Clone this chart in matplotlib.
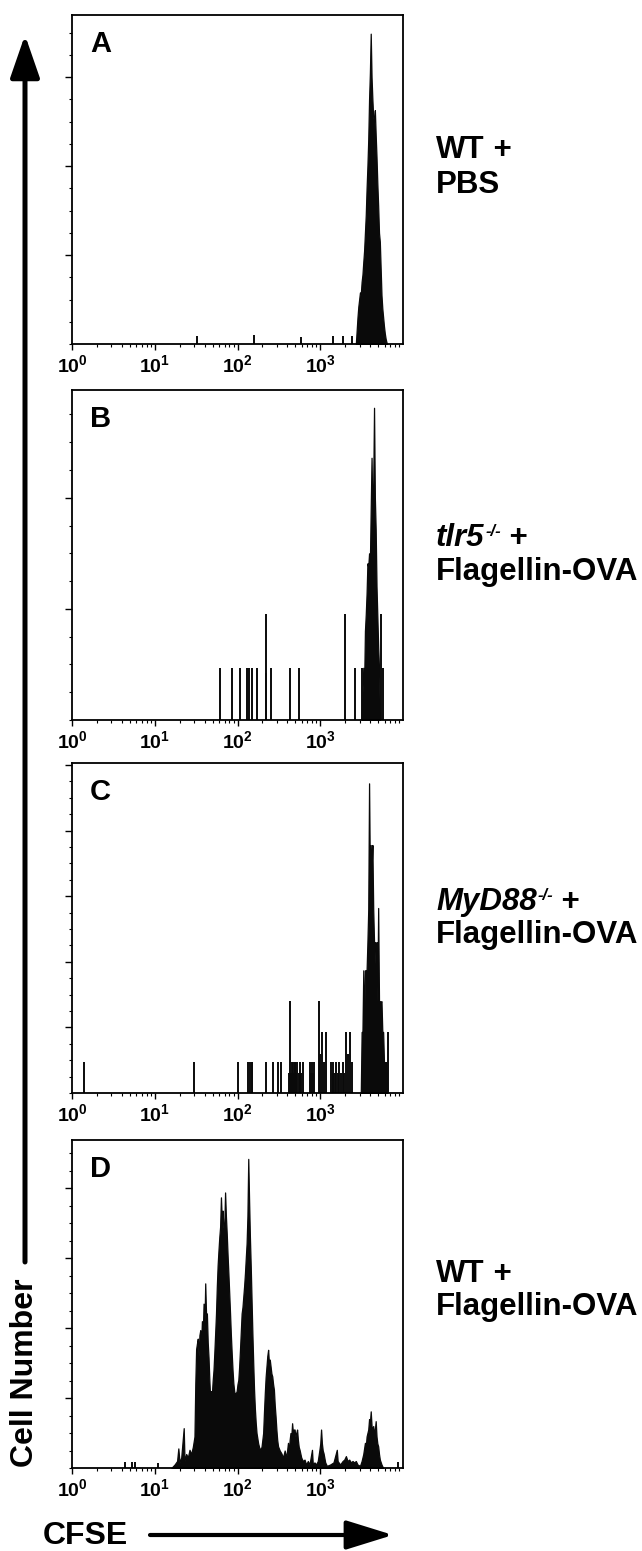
import numpy as np
import matplotlib
matplotlib.use("Agg")
import matplotlib.pyplot as plt
from matplotlib.ticker import AutoMinorLocator, LogLocator, NullFormatter, FixedLocator
from matplotlib.patches import FancyArrowPatch

plt.rcParams['font.family'] = ['Liberation Sans', 'DejaVu Sans']
plt.rcParams['font.weight'] = 'bold'

# ---- data (log10 CFSE position, height in y-tick units) ----
# A: WT + PBS
a_log = [3.43, 3.44, 3.45, 3.46, 3.47, 3.48, 3.49, 3.50, 3.51, 3.52, 3.53, 3.54, 3.55,
         3.56, 3.57, 3.58, 3.59, 3.60, 3.61, 3.62, 3.63, 3.64, 3.65, 3.66, 3.67, 3.68,
         3.69, 3.70, 3.71, 3.72, 3.73, 3.74, 3.75, 3.76, 3.77, 3.78, 3.79, 3.80, 3.81]
a_cnt = [0.0, 0.15, 0.30, 0.42, 0.50, 0.58, 0.56, 0.70, 0.78, 0.92, 1.05, 1.25, 1.45,
         1.75, 2.00, 2.30, 2.75, 3.05, 3.49, 3.00, 2.75, 2.55, 2.50, 2.63, 2.35, 2.10,
         1.80, 1.55, 1.25, 1.15, 0.85, 0.55, 0.40, 0.30, 0.20, 0.12, 0.06, 0.02, 0.0]
a_spike_log = [1.51, 2.20, 2.77, 3.15, 3.27, 3.38]
a_spike_cnt = [0.09, 0.10, 0.08, 0.09, 0.09, 0.09]

# B: tlr5-/- + Flagellin-OVA
b_log = [3.50, 3.52, 3.53, 3.54, 3.55, 3.56, 3.57, 3.58, 3.59, 3.60, 3.61, 3.62,
         3.63, 3.64, 3.65, 3.66, 3.67, 3.68, 3.69, 3.70, 3.71, 3.72]
b_cnt = [0.0, 0.47, 0.30, 0.80, 0.95, 1.14, 1.41, 1.38, 1.50, 1.42, 1.90, 2.36,
         1.86, 2.10, 2.81, 2.00, 1.71, 1.20, 0.93, 0.66, 0.47, 0.0]
b_spike_log = [1.79, 1.93, 2.03, 2.11, 2.14, 2.17, 2.23, 2.34, 2.35, 2.40, 2.64, 2.74,
               3.30, 3.42, 3.51, 3.73, 3.76]
b_spike_cnt = [0.47, 0.47, 0.47, 0.47, 0.47, 0.47, 0.47, 0.42, 0.95, 0.47, 0.47, 0.47,
               0.95, 0.47, 0.47, 0.95, 0.47]

# C: MyD88-/- + Flagellin-OVA
c_log = [3.49, 3.50, 3.51, 3.52, 3.53, 3.54, 3.55, 3.56, 3.57, 3.58, 3.59, 3.60, 3.61,
         3.62, 3.63, 3.64, 3.65, 3.66, 3.67, 3.68, 3.69, 3.70, 3.71, 3.72, 3.73, 3.74,
         3.75, 3.76, 3.77, 3.78, 3.79, 3.80, 3.81]
c_cnt = [0.0, 0.93, 0.93, 1.87, 0.93, 1.87, 1.87, 1.87, 2.30, 2.80, 4.72, 3.30, 3.78,
         3.40, 3.78, 2.80, 2.30, 2.30, 1.87, 2.30, 1.40, 2.82, 1.40, 1.40, 1.39, 1.40,
         0.93, 0.93, 0.47, 0.47, 0.47, 0.47, 0.0]
c_spike_log = [0.14, 1.48, 2.01, 2.13, 2.15, 2.17, 2.18, 2.35, 2.43, 2.49, 2.53,
               2.62, 2.64, 2.65, 2.66, 2.67, 2.68, 2.69, 2.70, 2.71, 2.72, 2.74, 2.76,
               2.77, 2.79, 2.88, 2.89, 2.90, 2.91, 2.93, 2.99, 3.00, 3.02, 3.04, 3.07,
               3.13, 3.15, 3.16, 3.18, 3.19, 3.21, 3.23, 3.25, 3.27, 3.29, 3.31, 3.33,
               3.36, 3.38, 3.82]
c_spike_cnt = [0.47, 0.47, 0.47, 0.47, 0.47, 0.47, 0.47, 0.47, 0.47, 0.47, 0.47,
               0.30, 1.40, 0.30, 0.47, 0.47, 0.30, 0.47, 0.47, 0.30, 0.47, 0.30, 0.47,
               0.30, 0.47, 0.47, 0.30, 0.47, 0.30, 0.47, 1.40, 0.60, 0.93, 0.47, 0.93,
               0.47, 0.30, 0.47, 0.30, 0.47, 0.30, 0.47, 0.30, 0.47, 0.30, 0.93, 0.60,
               0.93, 0.47, 0.93]

# D: WT + Flagellin-OVA
d_log = [1.20, 1.24, 1.27, 1.285, 1.30, 1.32, 1.35, 1.36, 1.38, 1.40, 1.42, 1.44, 1.46,
         1.48, 1.49, 1.50, 1.51, 1.52, 1.53, 1.54, 1.55, 1.56, 1.57, 1.58, 1.59, 1.60,
         1.61, 1.62, 1.63, 1.64, 1.65, 1.66, 1.67, 1.68, 1.69, 1.70, 1.71, 1.72, 1.73,
         1.74, 1.75, 1.76, 1.77, 1.78, 1.79, 1.80, 1.81, 1.82, 1.83, 1.84, 1.85, 1.86,
         1.87, 1.88, 1.89, 1.90, 1.91, 1.92, 1.93, 1.94, 1.95, 1.96, 1.97, 1.98, 1.99,
         2.00, 2.01, 2.02, 2.03, 2.04, 2.05, 2.06, 2.07, 2.08, 2.09, 2.10, 2.11, 2.12,
         2.13, 2.14, 2.15, 2.16, 2.17, 2.18, 2.19, 2.20, 2.21, 2.22, 2.23, 2.25, 2.27,
         2.29, 2.31, 2.32, 2.33, 2.34, 2.35, 2.36, 2.37, 2.38, 2.39, 2.40, 2.41, 2.42,
         2.43, 2.44, 2.45, 2.46, 2.47, 2.48, 2.49, 2.51, 2.53, 2.55, 2.57, 2.59, 2.61,
         2.62, 2.63, 2.64, 2.65, 2.66, 2.67, 2.68, 2.69, 2.70, 2.71, 2.72, 2.73, 2.74,
         2.75, 2.77, 2.79, 2.81, 2.83, 2.85, 2.87, 2.90, 2.91, 2.93, 2.95, 2.97, 2.99,
         3.00, 3.01, 3.02, 3.03, 3.04, 3.06, 3.08, 3.12, 3.16, 3.20, 3.21, 3.24, 3.27,
         3.29, 3.31, 3.33, 3.35, 3.37, 3.39, 3.41, 3.43, 3.45, 3.48, 3.50, 3.52, 3.54,
         3.55, 3.56, 3.57, 3.58, 3.59, 3.60, 3.61, 3.62, 3.63, 3.64, 3.65, 3.66, 3.67,
         3.68, 3.69, 3.70, 3.71, 3.72, 3.74, 3.76]
d_cnt = [0.0, 0.05, 0.10, 0.28, 0.08, 0.15, 0.57, 0.10, 0.20, 0.15, 0.26, 0.20, 0.30,
         0.45, 1.20, 1.70, 1.78, 1.85, 1.60, 1.90, 1.97, 1.75, 2.10, 1.90, 2.35, 2.00,
         2.64, 2.20, 2.21, 1.80, 1.58, 1.25, 1.00, 1.10, 1.05, 1.25, 1.40, 1.65, 1.92,
         2.20, 2.59, 2.90, 3.11, 3.30, 3.45, 3.87, 3.55, 3.68, 3.40, 3.45, 3.94, 3.60,
         3.35, 3.05, 2.78, 2.50, 2.21, 1.90, 1.64, 1.40, 1.21, 1.10, 1.05, 1.07, 1.10,
         1.20, 1.26, 1.45, 1.69, 1.95, 2.21, 2.30, 2.45, 2.60, 2.78, 3.00, 3.21, 3.60,
         4.42, 3.83, 3.30, 2.88, 2.40, 1.92, 1.50, 1.12, 0.85, 0.65, 0.50, 0.35, 0.26,
         0.30, 0.50, 0.80, 1.07, 1.30, 1.45, 1.60, 1.69, 1.50, 1.55, 1.45, 1.35, 1.31,
         1.20, 1.12, 0.90, 0.74, 0.55, 0.40, 0.31, 0.25, 0.21, 0.15, 0.25, 0.15, 0.36,
         0.20, 0.40, 0.50, 0.45, 0.64, 0.50, 0.55, 0.55, 0.45, 0.50, 0.55, 0.40, 0.30,
         0.26, 0.15, 0.10, 0.12, 0.05, 0.10, 0.05, 0.26, 0.05, 0.08, 0.05, 0.10, 0.26,
         0.35, 0.55, 0.35, 0.25, 0.21, 0.08, 0.03, 0.05, 0.08, 0.26, 0.10, 0.05, 0.10,
         0.12, 0.17, 0.10, 0.12, 0.08, 0.10, 0.08, 0.10, 0.05, 0.03, 0.10, 0.20, 0.36,
         0.30, 0.45, 0.50, 0.55, 0.70, 0.65, 0.81, 0.60, 0.55, 0.60, 0.50, 0.55, 0.67,
         0.45, 0.35, 0.31, 0.20, 0.12, 0.05, 0.0]
d_spike_log = [0.64, 0.73, 0.76, 1.04, 3.94]
d_spike_cnt = [0.09, 0.09, 0.09, 0.07, 0.08]

panel_letters = ['A', 'B', 'C', 'D']
y_tops = [3.7, 2.97, 5.03, 4.69]
# first label line: (strain, italic?, knockout superscript)
group_strain = ['WT', 'tlr5', 'MyD88', 'WT']
group_italic = [False, True, True, False]
group_super = ['', '-/-', '-/-', '']
group_line2 = ['PBS', 'Flagellin-OVA', 'Flagellin-OVA', 'Flagellin-OVA']
xtick_labels = [r'$\mathdefault{10^{0}}$', r'$\mathdefault{10^{1}}$',
                r'$\mathdefault{10^{2}}$', r'$\mathdefault{10^{3}}$']

envelopes = [(a_log, a_cnt), (b_log, b_cnt), (c_log, c_cnt), (d_log, d_cnt)]
spikes = [(a_spike_log, a_spike_cnt), (b_spike_log, b_spike_cnt),
          (c_spike_log, c_spike_cnt), (d_spike_log, d_spike_cnt)]

W, H = 642, 1551
fig = plt.figure(figsize=(W / 100, H / 100), dpi=100)
renderer = fig.canvas.get_renderer()

# axes boxes in pixels: (top, bottom)
boxes = [(15, 344), (390, 720), (763, 1093), (1140, 1468)]
left_px, right_px = 72, 403
# label baselines (pixels)
line1_y = [158, 546, 910, 1282]
line2_y = [193, 580, 943, 1315]
label_x = 436
label_fs = 22.5


def put_text(x_px, y_px, s, **kw):
    """Place text at pixel position (from top-left) and return its right edge in px."""
    t = fig.text(x_px / W, 1 - y_px / H, s, ha='left', va='baseline', **kw)
    return t.get_window_extent(renderer).x1


for i, (top, bot) in enumerate(boxes):
    ax = fig.add_axes([left_px / W, 1 - bot / H, (right_px - left_px) / W, (bot - top) / H])
    ax.set_xscale('log')
    ax.set_xlim(1, 1e4)
    ax.set_ylim(0, y_tops[i])

    env_x, env_y = envelopes[i]
    env_x = 10 ** np.array(env_x)
    ax.fill_between(env_x, env_y, 0, color='#0a0a0a', lw=0.9, edgecolor='#0a0a0a')
    sp_x, sp_y = spikes[i]
    ax.vlines(10 ** np.array(sp_x), 0, sp_y, color='#0a0a0a', lw=1.4)

    ax.xaxis.set_major_locator(FixedLocator([1, 10, 100, 1000]))
    ax.set_xticklabels(xtick_labels)
    ax.xaxis.set_minor_locator(LogLocator(base=10, subs=np.arange(2, 10), numticks=20))
    ax.xaxis.set_minor_formatter(NullFormatter())
    ax.yaxis.set_major_locator(FixedLocator(np.arange(1, int(y_tops[i]) + 1)))
    ax.yaxis.set_minor_locator(AutoMinorLocator(4))
    ax.set_yticklabels([])

    ax.tick_params(axis='x', which='major', direction='out', length=4, width=1.0,
                   pad=3, labelsize=14)
    ax.tick_params(axis='x', which='minor', direction='out', length=2, width=0.8)
    ax.tick_params(axis='y', which='major', direction='out', length=5, width=1.0)
    ax.tick_params(axis='y', which='minor', direction='out', length=2.5, width=0.8)
    for lab in ax.get_xticklabels():
        lab.set_fontweight('bold')
    for sp in ax.spines.values():
        sp.set_linewidth(1.3)

    ax.text(0.055, 0.955, panel_letters[i], transform=ax.transAxes, ha='left', va='top',
            fontsize=21, fontweight='bold')

    # group label, line 1 built from pieces (italic gene name + superscript)
    x = put_text(label_x, line1_y[i], group_strain[i], fontsize=label_fs, fontweight='bold',
                 fontstyle='italic' if group_italic[i] else 'normal')
    if group_super[i]:
        x = put_text(x + 1, line1_y[i] - 10, group_super[i], fontsize=12, fontweight='bold',
                     fontstyle='italic')
    put_text(x, line1_y[i], ' +', fontsize=label_fs, fontweight='bold')
    put_text(label_x, line2_y[i], group_line2[i], fontsize=label_fs, fontweight='bold')

# axis titles with arrows
fig.text(25 / W, 1 - 1373 / H, 'Cell Number', rotation=90, ha='center', va='center',
         fontsize=23, fontweight='bold')
fig.add_artist(FancyArrowPatch((25 / W, 1 - 1262 / H), (25 / W, 1 - 35 / H),
                               transform=fig.transFigure, arrowstyle='-|>,head_length=26,head_width=9',
                               mutation_scale=1, lw=3.6, color='black', shrinkA=0, shrinkB=0))
fig.text(43 / W, 1 - 1544 / H, 'CFSE', ha='left', va='baseline', fontsize=23, fontweight='bold')
fig.add_artist(FancyArrowPatch((150 / W, 1 - 1535 / H), (393 / W, 1 - 1535 / H),
                               transform=fig.transFigure, arrowstyle='-|>,head_length=29,head_width=9',
                               mutation_scale=1, lw=3.0, color='black', shrinkA=0, shrinkB=0))

fig.savefig('out.png', dpi=100)
